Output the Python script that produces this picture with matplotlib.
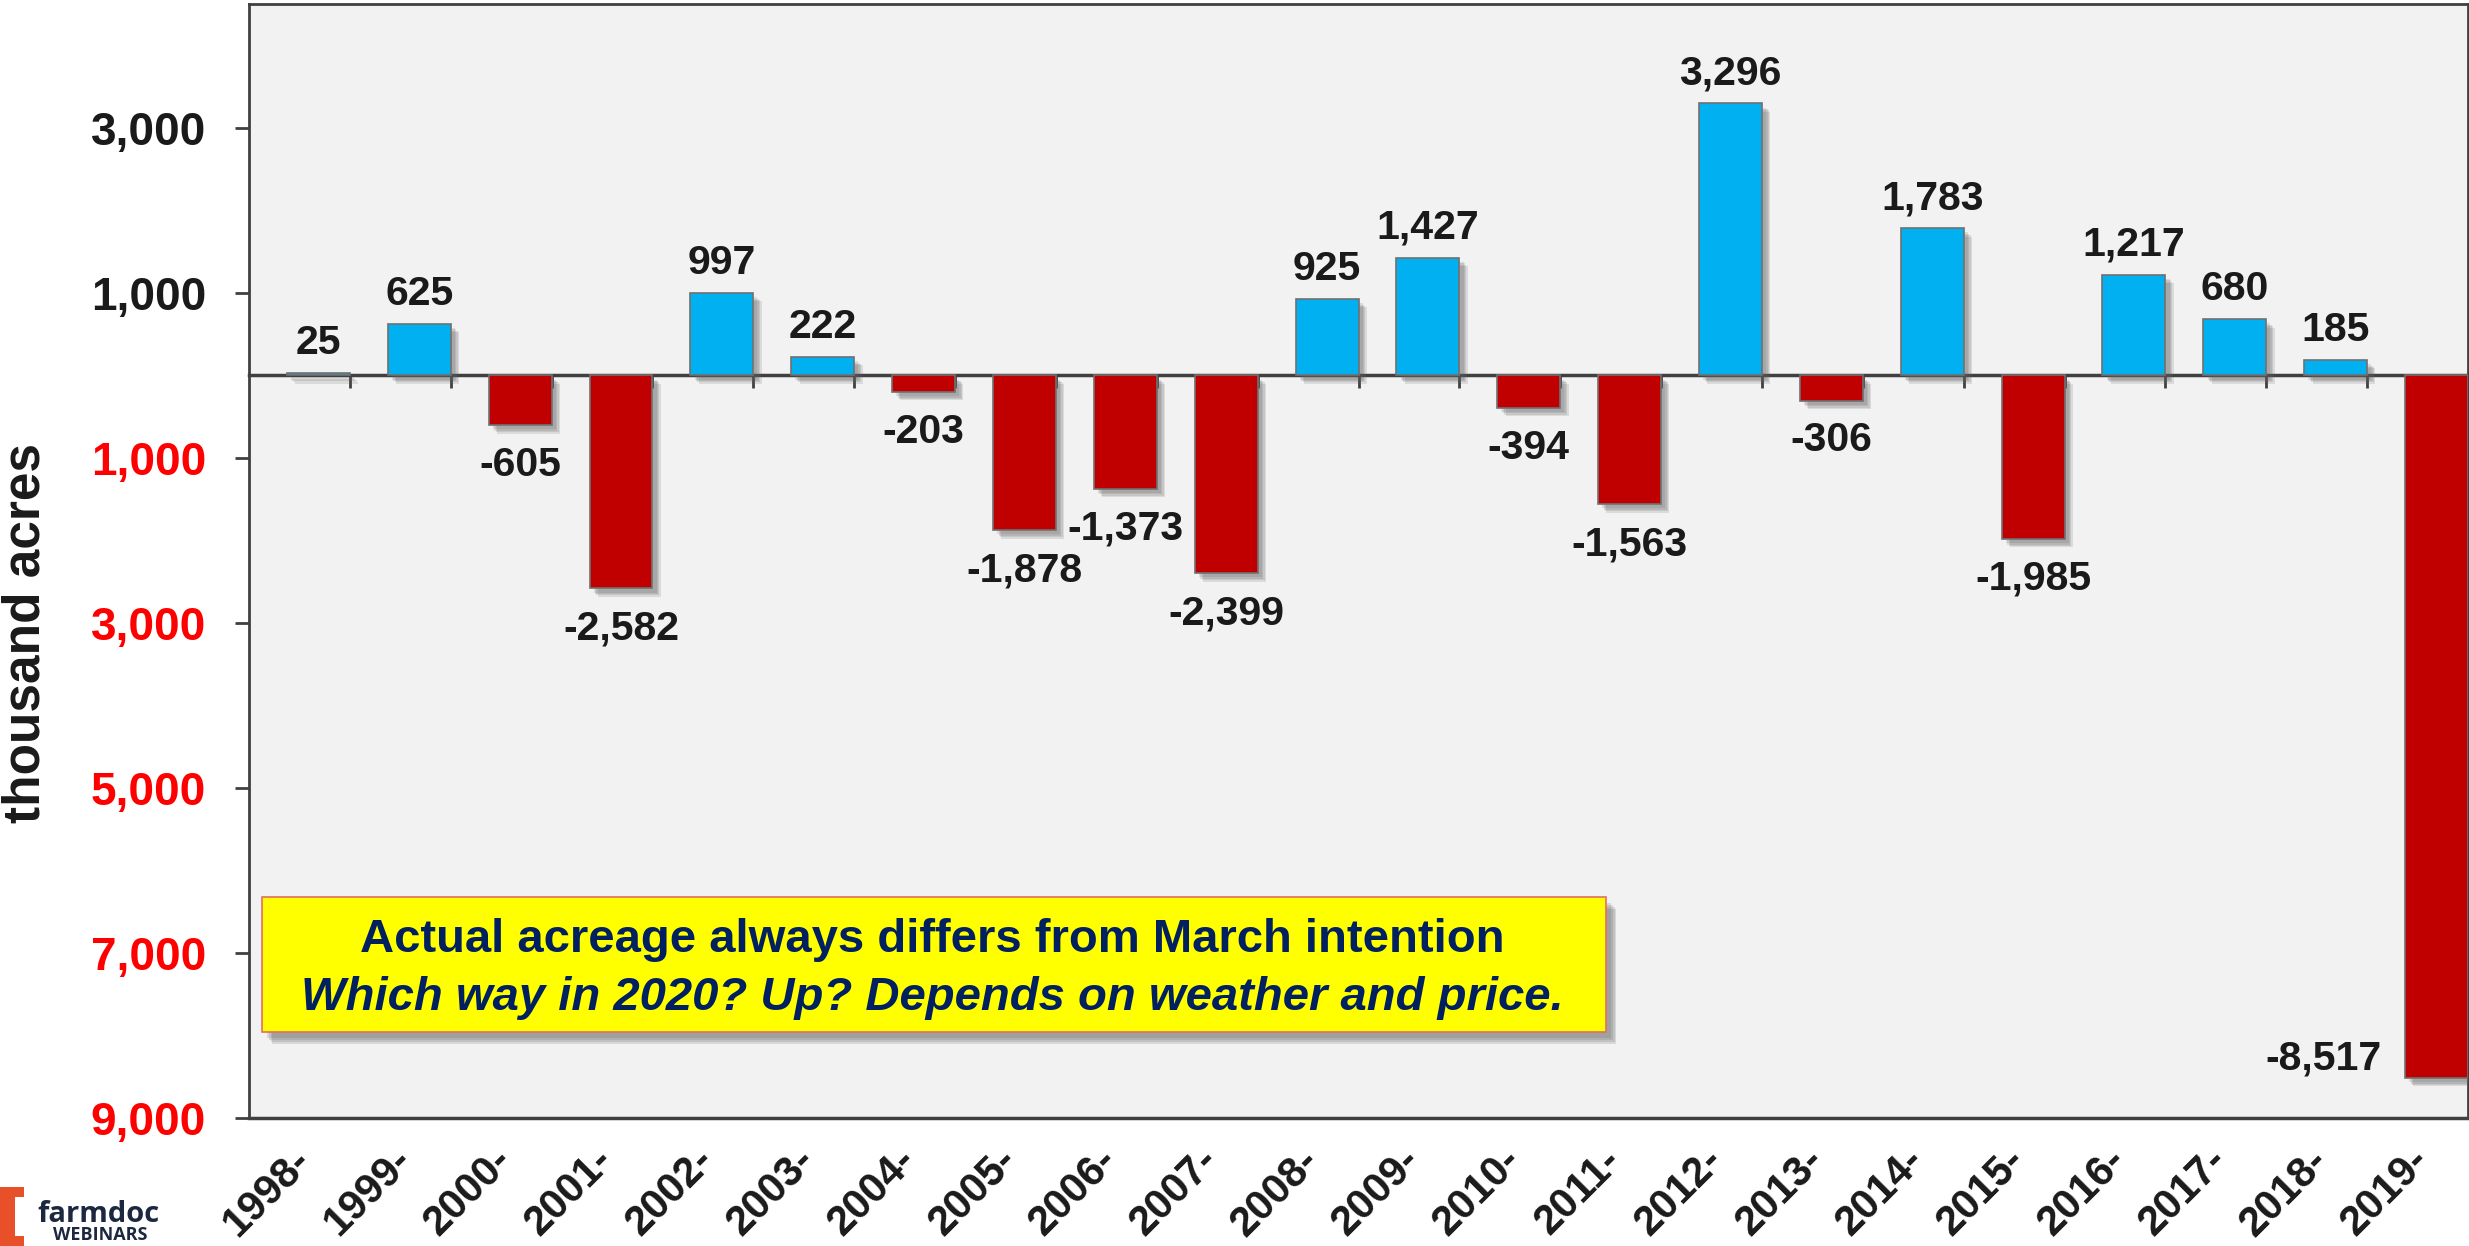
import matplotlib
matplotlib.use("Agg")
import matplotlib.pyplot as plt
import matplotlib.patheffects as pe
from matplotlib.patches import Rectangle, Polygon
import numpy as np

plt.rcParams['font.family'] = ['Liberation Sans', 'DejaVu Sans']

# change from March intentions to June acreage, thousand acres
years = ['1998-', '1999-', '2000-', '2001-', '2002-', '2003-', '2004-', '2005-',
         '2006-', '2007-', '2008-', '2009-', '2010-', '2011-', '2012-', '2013-',
         '2014-', '2015-', '2016-', '2017-', '2018-', '2019-']
changes = [25, 625, -605, -2582, 997, 222, -203, -1878, -1373, -2399, 925,
           1427, -394, -1563, 3296, -306, 1783, -1985, 1217, 680, 185, -8517]
y_ticks = [3000, 1000, -1000, -3000, -5000, -7000, -9000]

W, H = 2469, 1246
fig = plt.figure(figsize=(W / 100, H / 100), dpi=100)
ax = fig.add_axes([249 / W, 1 - 1118 / H, (2468 - 249) / W, (1118 - 4) / H])
ax.set_facecolor('#F2F2F2')


def soft_shadow(dx, dy, a):
    # a few stacked offsets give a blurred-looking drop shadow
    fx = [pe.SimplePatchShadow(offset=(dx * k / 4, dy * k / 4), shadow_rgbFace='#606060', alpha=a)
          for k in (6, 5, 4, 3)]
    return fx + [pe.Normal()]


n = len(years)
idx = np.arange(n)
colors = ['#00B0F0' if v >= 0 else '#C00000' for v in changes]
bars = ax.bar(idx + 0.688, changes, width=0.624, color=colors,
              edgecolor='#707070', linewidth=1.2, zorder=3)
for b in bars:
    b.set_path_effects(soft_shadow(4, -4, 0.16))

ax.set_xlim(0, n)
ax.set_ylim(-9000, 4500)

# data labels
for x, v in zip(idx + 0.688, changes):
    txt = f"{v:,}"
    if v < -8000:
        ax.annotate(txt, (x - 0.312, v), xytext=(-17, 14), textcoords='offset points',
                    ha='right', va='center', fontsize=29.5, fontweight='bold', color='#1a1a1a')
    elif v >= 0:
        ax.annotate(txt, (x, v), xytext=(0, 8), textcoords='offset points',
                    ha='center', va='bottom', fontsize=29.5, fontweight='bold', color='#1a1a1a')
    else:
        ax.annotate(txt, (x, v), xytext=(0, -15), textcoords='offset points',
                    ha='center', va='top', fontsize=29.5, fontweight='bold', color='#1a1a1a')

# axes styling
spine_c = '#404040'
for s in ['left', 'top', 'right']:
    ax.spines[s].set_color(spine_c)
    ax.spines[s].set_linewidth(2)
ax.spines['bottom'].set_position(('data', 0))
ax.spines['bottom'].set_color(spine_c)
ax.spines['bottom'].set_linewidth(2.5)
ax.axhline(-9000, color=spine_c, lw=2.5, clip_on=False, zorder=5)

ax.set_xticks(idx + 1)
ax.set_xticklabels([])
ax.tick_params(axis='x', direction='out', length=9, width=2, color=spine_c)

ax.set_yticks(y_ticks)
ax.set_yticklabels([f"{abs(t):,}" for t in y_ticks])
ax.tick_params(axis='y', direction='out', length=10, width=2, color=spine_c, pad=21)
for lab, t in zip(ax.get_yticklabels(), y_ticks):
    lab.set_fontsize(33)
    lab.set_fontweight('bold')
    lab.set_color('#1a1a1a' if t > 0 else '#FF0000')

# category labels
for i, yr in enumerate(years):
    ax.text(i + 0.41, -0.02, yr, transform=ax.get_xaxis_transform(), rotation=45,
            rotation_mode='anchor', ha='right', va='top', fontsize=30,
            fontweight='bold', color='#1a1a1a', clip_on=False)

fig.text(26 / W, 1 - 633 / H, 'thousand acres', rotation=90, ha='center', va='center',
         fontsize=37, fontweight='bold', color='#1a1a1a')

# yellow note box
box = Rectangle((0.00586, 0.0772), 0.6115 - 0.00586, 0.1984 - 0.0772, transform=ax.transAxes,
                facecolor='#FFFF00', edgecolor='#E07060', linewidth=1.2, zorder=6)
box.set_path_effects(soft_shadow(5, -6, 0.18))
ax.add_patch(box)
ax.text(0.3078, 0.149, 'Actual acreage always differs from March intention', transform=ax.transAxes,
        ha='center', va='baseline', fontsize=34, fontweight='bold', color='#002060', zorder=7)
ax.text(0.3078, 0.097, 'Which way in 2020? Up? Depends on weather and price.', transform=ax.transAxes,
        ha='center', va='baseline', fontsize=34, fontweight='bold', fontstyle='italic',
        color='#002060', zorder=7)

# farmdoc logo
pts = [(0, 1187), (24, 1187), (24, 1197), (15, 1197), (15, 1236), (24, 1236), (24, 1246), (0, 1246)]
fig.add_artist(Polygon([(x / W, 1 - y / H) for x, y in pts], closed=True,
                       transform=fig.transFigure, facecolor='#E8502A', edgecolor='none'))
fig.text(37 / W, 1 - 1222 / H, 'farmdoc', fontsize=21, fontweight='bold', family='Open Sans',
         color='#1C2840', va='baseline', ha='left')
fig.text(53 / W, 1 - 1240 / H, 'WEBINARS', fontsize=13, fontweight='bold', family='Open Sans',
         color='#1C2840', va='baseline', ha='left')

fig.savefig('out.png', dpi=100)
